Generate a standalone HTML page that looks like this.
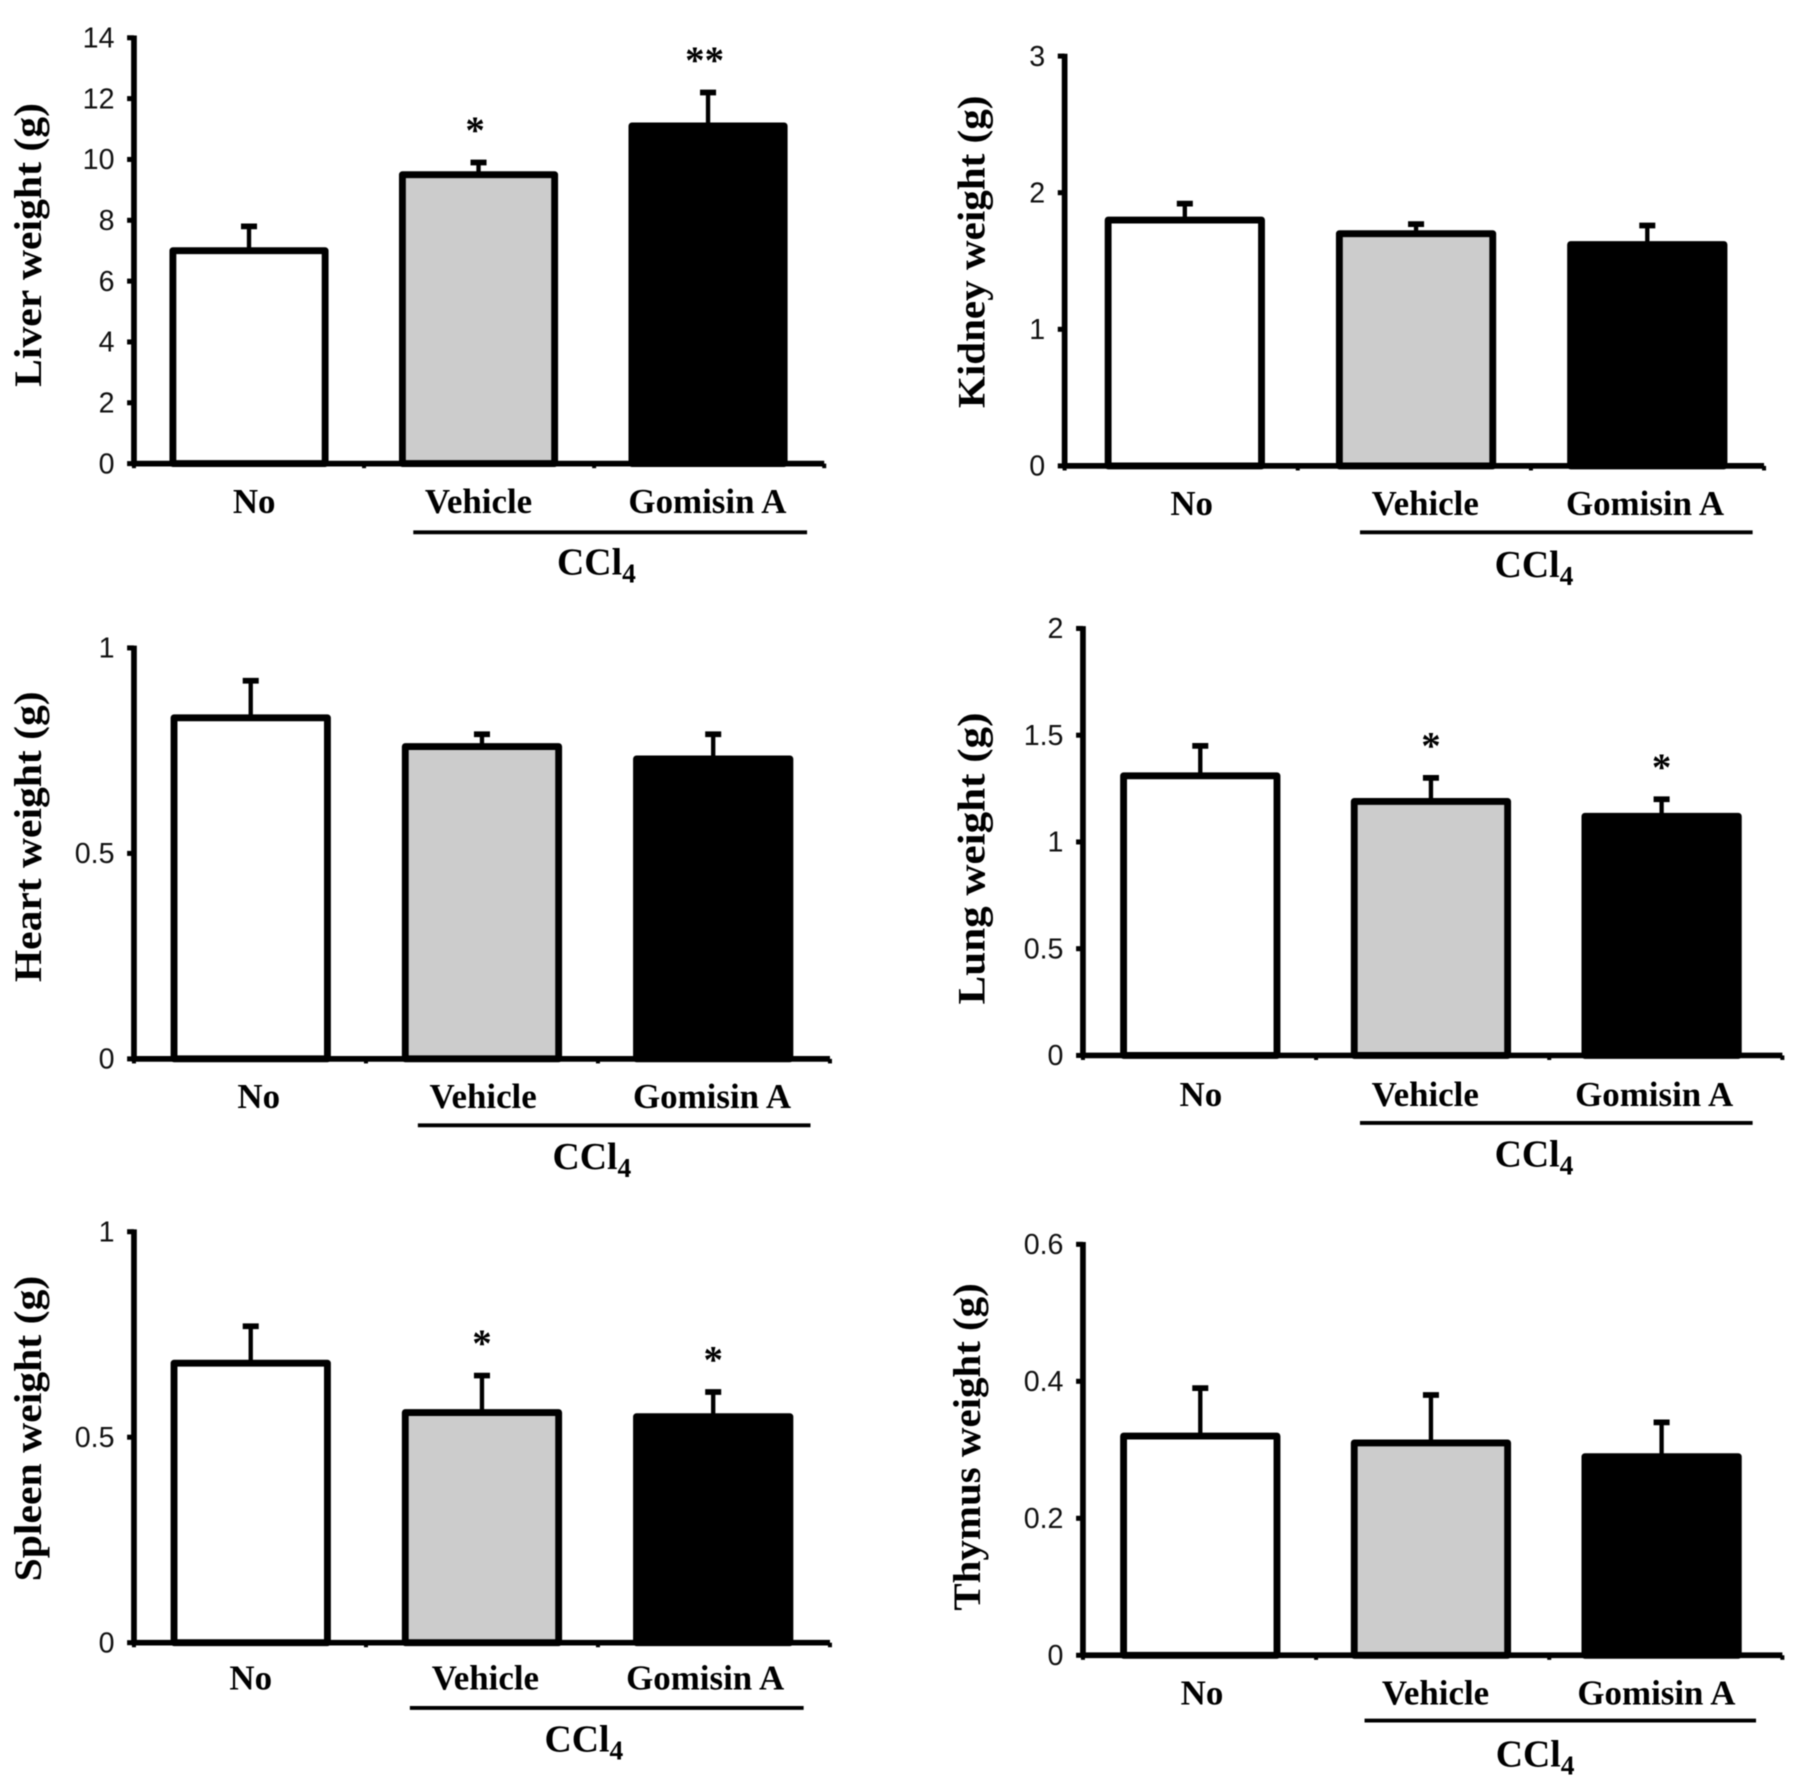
<!DOCTYPE html>
<html lang="en">
<head>
<meta charset="utf-8">
<title>Organ weights</title>
<style>
html,body{margin:0;padding:0;background:#fff;}
body{width:1795px;height:1786px;overflow:hidden;}
svg{display:block;filter:blur(0.5px);}
.tick{font-family:"Liberation Sans",sans-serif;font-size:25px;fill:#111;}
.cat{font-family:"Liberation Serif",serif;font-weight:bold;font-size:30.5px;fill:#000;text-anchor:middle;}
.ccl{font-family:"Liberation Serif",serif;font-weight:bold;font-size:33px;fill:#000;text-anchor:middle;}
.ttl{font-family:"Liberation Serif",serif;font-weight:bold;font-size:34px;fill:#000;text-anchor:middle;}
.star{font-family:"Liberation Serif",serif;font-weight:bold;font-size:34px;fill:#000;text-anchor:middle;}
</style>
</head>
<body>
<svg id="figure" xmlns="http://www.w3.org/2000/svg" width="1795" height="1786" viewBox="0 0 1568 1560.2"></svg>
<script>
const categories = ['No', 'Vehicle', 'Gomisin A'];
const barFills = ['#ffffff', '#cccccc', '#000000'];

const liverValues = [7.0, 9.5, 11.1];
const liverErrors = [7.8, 9.9, 12.2];
const liverMarks = ['', '*', '**'];
const liverTicks = [0, 2, 4, 6, 8, 10, 12, 14];

const kidneyValues = [1.8, 1.7, 1.62];
const kidneyErrors = [1.92, 1.77, 1.76];
const kidneyMarks = ['', '', ''];
const kidneyTicks = [0, 1, 2, 3];

const heartValues = [0.83, 0.76, 0.73];
const heartErrors = [0.92, 0.79, 0.79];
const heartMarks = ['', '', ''];
const heartTicks = [0, 0.5, 1];

const lungValues = [1.31, 1.19, 1.12];
const lungErrors = [1.45, 1.3, 1.2];
const lungMarks = ['', '*', '*'];
const lungTicks = [0, 0.5, 1, 1.5, 2];

const spleenValues = [0.68, 0.56, 0.55];
const spleenErrors = [0.77, 0.65, 0.61];
const spleenMarks = ['', '*', '*'];
const spleenTicks = [0, 0.5, 1];

const thymusValues = [0.32, 0.31, 0.29];
const thymusErrors = [0.39, 0.38, 0.34];
const thymusMarks = ['', '', ''];
const thymusTicks = [0, 0.2, 0.4, 0.6];

const svg = document.getElementById('figure');
const NS = 'http://www.w3.org/2000/svg';

function make(parent, tag, attrs, text) {
  const node = document.createElementNS(NS, tag);
  for (const key in attrs) node.setAttribute(key, attrs[key]);
  if (text !== undefined) node.textContent = text;
  parent.appendChild(node);
  return node;
}

function drawPanel(p) {
  const yMax = p.ticks[p.ticks.length - 1];
  const yScale = v => p.y0 - (v / yMax) * (p.y0 - p.yTop);
  const barLeft = i => p.barStart + i * p.barStep;
  const barCenter = i => barLeft(i) + p.barWidth / 2;

  const g = make(svg, 'g', {});
  
  

  p.values.forEach((v, i) => {
    const stem = make(g, 'line', {x1: barCenter(i), x2: barCenter(i), y1: yScale(v), y2: yScale(p.errors[i]), stroke: '#000', 'stroke-width': 3.8});
    
    
    const cap = make(g, 'line', {x1: barCenter(i) - 7, x2: barCenter(i) + 7, y1: yScale(p.errors[i]), y2: yScale(p.errors[i]), stroke: '#000', 'stroke-width': 5});
    
    
    const bar = make(g, 'rect', {x: barLeft(i) + 3, y: yScale(v), width: p.barWidth - 6, height: p.y0 - yScale(v), fill: barFills[i], stroke: '#000', 'stroke-width': 6, 'stroke-linejoin': 'round'});
    
    
    if (p.marks[i]) {
      const star = make(g, 'text', {class: 'star', x: barCenter(i) + p.markShift, y: yScale(p.errors[i]) - 17}, p.marks[i]);
      
      
    }
    const label = make(g, 'text', {class: 'cat', x: p.labelX[i], y: p.labelY}, categories[i]);
    
    
  });

  const yAxis = make(g, 'line', {x1: p.x0, x2: p.x0, y1: p.yTop - 2, y2: p.y0 + 2, stroke: '#000', 'stroke-width': 5});
  
  
  const xAxis = make(g, 'line', {x1: p.x0 - 2, x2: p.xEnd, y1: p.y0, y2: p.y0, stroke: '#000', 'stroke-width': 5});
  
  

  [0, 1, 2, 3].forEach(i => {
    const tx = p.x0 + i * (p.xEnd - p.x0) / 3;
    const xt = make(g, 'line', {x1: tx, x2: tx, y1: p.y0, y2: p.y0 + 4, stroke: '#000', 'stroke-width': 3.5});
    
    
  });

  p.ticks.forEach(t => {
    const tm = make(g, 'line', {x1: p.x0 - 6, x2: p.x0, y1: yScale(t), y2: yScale(t), stroke: '#000', 'stroke-width': 4.4});
    
    
    const tl = make(g, 'text', {class: 'tick', x: p.x0 - 17, y: yScale(t) + 8.5, 'text-anchor': 'end'}, String(t));
    
    
  });

  const title = make(g, 'text', {class: 'ttl', transform: 'translate(' + p.titleX + ',' + p.titleY + ') rotate(-90)', textLength: p.titleLen, lengthAdjust: 'spacingAndGlyphs'}, p.title);
  title.setAttribute('xml:space', 'preserve');
  
  

  const bracket = make(g, 'line', {x1: p.lineX[0], x2: p.lineX[1], y1: p.lineY, y2: p.lineY, stroke: '#000', 'stroke-width': 3.4});
  
  

  const ccl = make(g, 'text', {class: 'ccl', x: p.cclX, y: p.cclY});
  
  
  const main = make(ccl, 'tspan', {}, 'CCl');
  
  
  const sub = make(ccl, 'tspan', {dy: 7, 'font-size': 24}, '4');
  
  
}

drawPanel({key: 'liver', title: 'Liver weight (g)', values: liverValues, errors: liverErrors, marks: liverMarks, ticks: liverTicks,
  x0: 117, xEnd: 720, y0: 405, yTop: 33, barStart: 148, barStep: 200.5, barWidth: 139, markShift: -3,
  labelX: [222, 418, 618], labelY: 448, lineX: [361, 705], lineY: 465, cclX: 521, cclY: 502,
  titleX: 36, titleY: 214, titleLen: 248});

drawPanel({key: 'kidney', title: 'Kidney weight (g)', values: kidneyValues, errors: kidneyErrors, marks: kidneyMarks, ticks: kidneyTicks,
  x0: 930, xEnd: 1541, y0: 407, yTop: 49, barStart: 965, barStep: 202, barWidth: 140, markShift: 0,
  labelX: [1041, 1245, 1437], labelY: 450, lineX: [1188, 1531], lineY: 465, cclX: 1340, cclY: 504,
  titleX: 860, titleY: 220, titleLen: 273});

drawPanel({key: 'heart', title: 'Heart weight (g)', values: heartValues, errors: heartErrors, marks: heartMarks, ticks: heartTicks,
  x0: 117, xEnd: 725, y0: 925, yTop: 566, barStart: 149, barStep: 202, barWidth: 140, markShift: 0,
  labelX: [226, 422, 622], labelY: 968, lineX: [365, 708], lineY: 983, cclX: 517, cclY: 1021,
  titleX: 36, titleY: 731, titleLen: 254});

drawPanel({key: 'lung', title: 'Lung  weight (g)', values: lungValues, errors: lungErrors, marks: lungMarks, ticks: lungTicks,
  x0: 946, xEnd: 1557, y0: 922, yTop: 549, barStart: 978.5, barStep: 201.5, barWidth: 140, markShift: 0,
  labelX: [1049, 1245, 1445], labelY: 966, lineX: [1188, 1531], lineY: 981, cclX: 1340, cclY: 1019,
  titleX: 860, titleY: 750, titleLen: 255});

drawPanel({key: 'spleen', title: 'Spleen weight (g)', values: spleenValues, errors: spleenErrors, marks: spleenMarks, ticks: spleenTicks,
  x0: 117, xEnd: 725, y0: 1435, yTop: 1076, barStart: 149, barStep: 202, barWidth: 140, markShift: 0,
  labelX: [219, 424, 616], labelY: 1476, lineX: [358, 702], lineY: 1492, cclX: 510, cclY: 1530,
  titleX: 36, titleY: 1248, titleLen: 267});

drawPanel({key: 'thymus', title: 'Thymus weight (g)', values: thymusValues, errors: thymusErrors, marks: thymusMarks, ticks: thymusTicks,
  x0: 946, xEnd: 1557, y0: 1446, yTop: 1087, barStart: 978.5, barStep: 201.5, barWidth: 140, markShift: 0,
  labelX: [1050, 1254, 1447], labelY: 1489, lineX: [1192, 1534], lineY: 1503, cclX: 1341, cclY: 1543,
  titleX: 856, titleY: 1264, titleLen: 286});
</script>
</body>
</html>
